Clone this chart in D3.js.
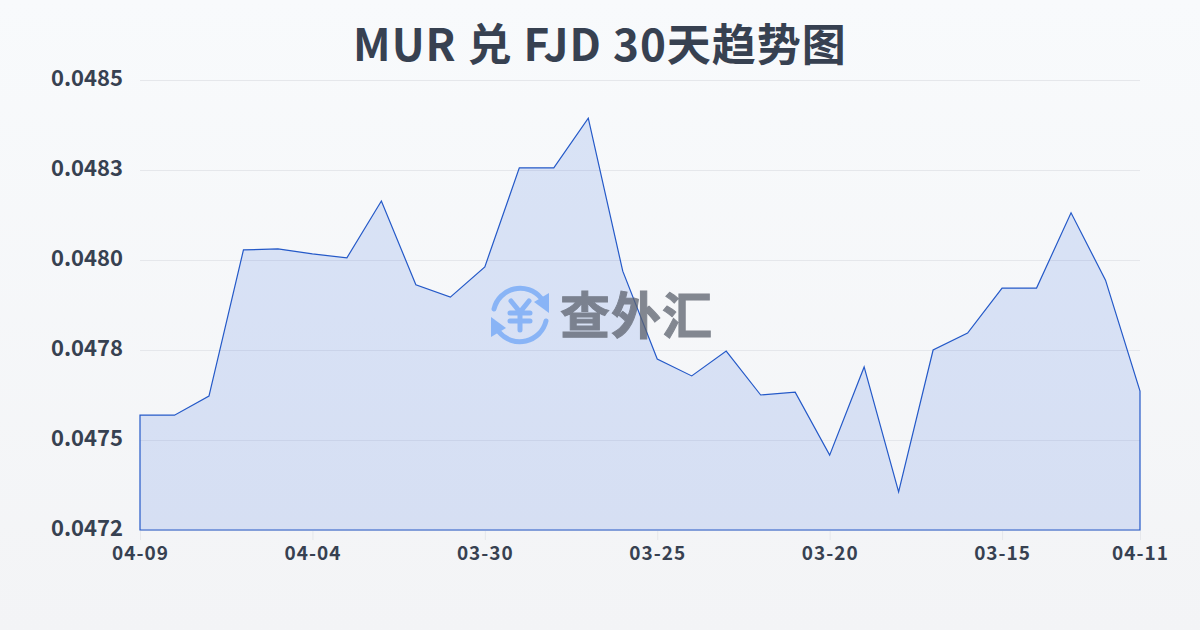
<!DOCTYPE html>
<html><head><meta charset="utf-8">
<script src="https://cdn.jsdelivr.net/npm/d3@7"></script>
<style>html,body{margin:0;padding:0;background:#f8fafc}svg{display:block}text{font-family:"Noto Sans CJK SC",sans-serif}</style>
</head><body><svg id="c" width="1200" height="630"></svg>
<script>
const titleText="MUR 兑 FJD 30天趋势图";
const dates=["04-09","04-08","04-07","04-06","04-05","04-04","04-03","04-02","04-01","03-31","03-30","03-29","03-28","03-27","03-26","03-25","03-24","03-23","03-22","03-21","03-20","03-19","03-18","03-17","03-16","03-15","03-14","03-13","03-12","04-11"];
const values=[0.047569,0.047569,0.047622,0.048028,0.048031,0.048017,0.048006,0.048164,0.047931,0.047897,0.047981,0.048256,0.048256,0.048394,0.047969,0.047725,0.047678,0.047747,0.047625,0.047633,0.047458,0.047703,0.047356,0.04775,0.047797,0.047922,0.047922,0.048131,0.047944,0.047636];
const yTicks=[0.0485,0.04825,0.048,0.04775,0.0475,0.04725];
const yTickLabels=["0.0485","0.0483","0.0480","0.0478","0.0475","0.0472"];
const xTickDates=["04-09","04-04","03-30","03-25","03-20","03-15","04-11"];
const svg=d3.select("#c");
const defs=svg.append("defs");
const bg=defs.append("linearGradient").attr("id","bg").attr("x1",0).attr("y1",0).attr("x2",0).attr("y2",1);
bg.append("stop").attr("offset",0).attr("stop-color","#f8fafc");
bg.append("stop").attr("offset",1).attr("stop-color","#f3f4f6");
svg.append("rect").attr("width",1200).attr("height",630).attr("fill","url(#bg)");
const x=d3.scalePoint().domain(dates).range([140,1140]);
const y=d3.scaleLinear().domain([0.04725,0.0485]).range([530,80]);
svg.append("text").attr("x",600).attr("y",61).attr("text-anchor","middle").attr("font-size",44).attr("font-weight",700).attr("letter-spacing",1).attr("fill","#374151").text(titleText);
const yAxis=d3.axisLeft(y).tickValues(yTicks).tickFormat((d,i)=>yTickLabels[i]).tickSize(0).tickPadding(17);
const gy=svg.append("g").attr("transform","translate(140,-2)").call(yAxis);
gy.select(".domain").remove();
gy.selectAll("text").attr("font-size",22).attr("font-weight",700).attr("fill","#374151").attr("font-family",'"Noto Sans"');
const grid=svg.append("g");
grid.selectAll("line").data(yTicks).join("line").attr("x1",140).attr("x2",1140).attr("y1",d=>Math.round(y(d))+0.5).attr("y2",d=>Math.round(y(d))+0.5).attr("stroke","#e5e7eb").attr("stroke-width",1);
const xAxis=d3.axisBottom(x).tickValues(xTickDates).tickSize(10).tickPadding(7);
const gx=svg.append("g").attr("transform","translate(0,530)").call(xAxis);
gx.select(".domain").remove();
gx.selectAll("line").attr("stroke","#e5e7eb");
gx.selectAll("text").attr("font-size",19).attr("font-weight",700).attr("letter-spacing",1).attr("fill","#374151").attr("font-family",'"Noto Sans"');
const area=d3.area().x(d=>x(d.d)).y0(y(0.04725)).y1(d=>y(d.v));
const pts=dates.map((d,i)=>({d,v:values[i]}));
svg.append("path").attr("d",area(pts)+"Z").attr("fill","#2f62dc").attr("fill-opacity",0.15).attr("stroke","#2459c8").attr("stroke-width",1.2);
const wm=svg.append("g").attr("opacity",0.75);
wm.append("text").attr("x",560).attr("y",334).attr("font-size",50).attr("font-weight",700).attr("fill","#5c626e").attr("stroke","#5c626e").attr("stroke-width",1).attr("textLength",152).text("查外汇");
const ic=wm.append("g").attr("transform","translate(520,315)");
ic.append("path").attr("d","M-26,-6A27,27 0 0 1 21,-17").attr("fill","none").attr("stroke","#6fa6f7").attr("stroke-width",5).attr("stroke-linecap","round");
ic.append("path").attr("d","M26,6A27,27 0 0 1 -21,17").attr("fill","none").attr("stroke","#6fa6f7").attr("stroke-width",5).attr("stroke-linecap","round");
ic.append("path").attr("d","M14,-13L29,-22L29,-2Z").attr("fill","#6fa6f7");
ic.append("path").attr("d","M-14,13L-29,22L-29,2Z").attr("fill","#6fa6f7");
ic.append("path").attr("d","M-9,-14L0,-3L9,-14M-10,-2H10M-10,6H10M0,-3V15").attr("fill","none").attr("stroke","#6fa6f7").attr("stroke-width",5).attr("stroke-linecap","round");
</script></body></html>
